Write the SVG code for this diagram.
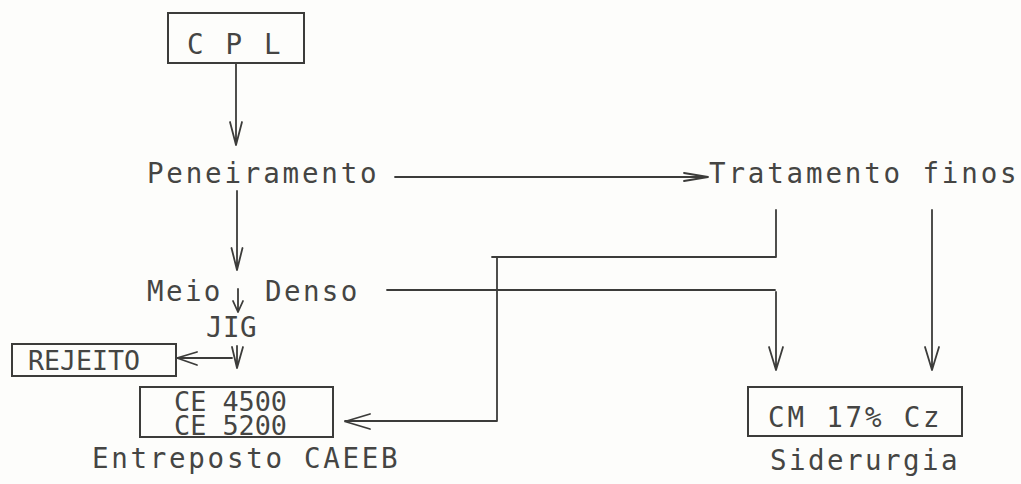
<svg xmlns="http://www.w3.org/2000/svg" width="1021" height="484" viewBox="0 0 1021 484">
<style>
.bg{fill:#fdfdfb}
.box{fill:none;stroke:#3c3c3a;stroke-width:2}
.ln{fill:none;stroke:#3c3c3a;stroke-width:1.8;stroke-linecap:round;stroke-linejoin:round}
.t{font-family:"DejaVu Sans Mono","Liberation Mono",monospace;font-size:27.5px;fill:#454543;letter-spacing:2.4px}
.n{font-family:"DejaVu Sans Mono","Liberation Mono",monospace;font-size:26px;fill:#454543}
</style>
<rect class="bg" x="0" y="0" width="1021" height="484"/>
<g id="connectors">
  <path class="ln" d="M236,63 V145 M230,122 L236,145 L242,122"/>
  <path class="ln" d="M237,191 V270 M231.5,248 L237,270 L242.5,248"/>
  <path class="ln" d="M238,289 V312 M233,301 L238,312 L243,301"/>
  <path class="ln" d="M237,346 V368 M232,347 L237,368 L243,347"/>
  <path class="ln" d="M232,358 H177 M197,352 L177,358 L197,365"/>
  <path class="ln" d="M395,177 H708 M684,173 L708,177 L684,181"/>
  <path class="ln" d="M776,210 V257 H492"/>
  <path class="ln" d="M497,257 V421 H345 M370,414 L345,421.5 L370,429"/>
  <path class="ln" d="M387,290 H775"/>
  <path class="ln" d="M776,292 V370 M769,347 L776,370 L783,347"/>
  <path class="ln" d="M932,210 V370 M925,347 L932,370 L939,347"/>
</g>
<g id="cpl">
  <rect class="box" x="168" y="13" width="136" height="50"/>
  <text class="t" x="187" y="54" textLength="96">C P L</text>
</g>
<g id="peneiramento">
  <text class="t" x="147" y="183" textLength="232">Peneiramento</text>
</g>
<g id="tratamento">
  <text class="t" x="709" y="183" textLength="310">Tratamento finos</text>
</g>
<g id="meio-denso">
  <text class="t" x="147" y="301">Meio</text>
  <text class="t" x="265" y="301">Denso</text>
</g>
<g id="jig">
  <text class="t" x="206" y="337" style="letter-spacing:0.5px">JIG</text>
</g>
<g id="rejeito">
  <rect class="box" x="12" y="344" width="164" height="32"/>
  <text class="n" x="28" y="370" textLength="112" lengthAdjust="spacingAndGlyphs">REJEITO</text>
</g>
<g id="ce">
  <rect class="box" x="140" y="387" width="193" height="50"/>
  <text class="n" x="174" y="411" textLength="113" lengthAdjust="spacingAndGlyphs">CE 4500</text>
  <text class="n" x="174" y="435" textLength="113" lengthAdjust="spacingAndGlyphs">CE 5200</text>
  <text class="t" x="92" y="468" textLength="308">Entreposto CAEEB</text>
</g>
<g id="cm">
  <rect class="box" x="748" y="387" width="214" height="49"/>
  <text class="t" x="768" y="427" textLength="174">CM 17% Cz</text>
  <text class="t" x="770" y="470" textLength="190">Siderurgia</text>
</g>
</svg>
